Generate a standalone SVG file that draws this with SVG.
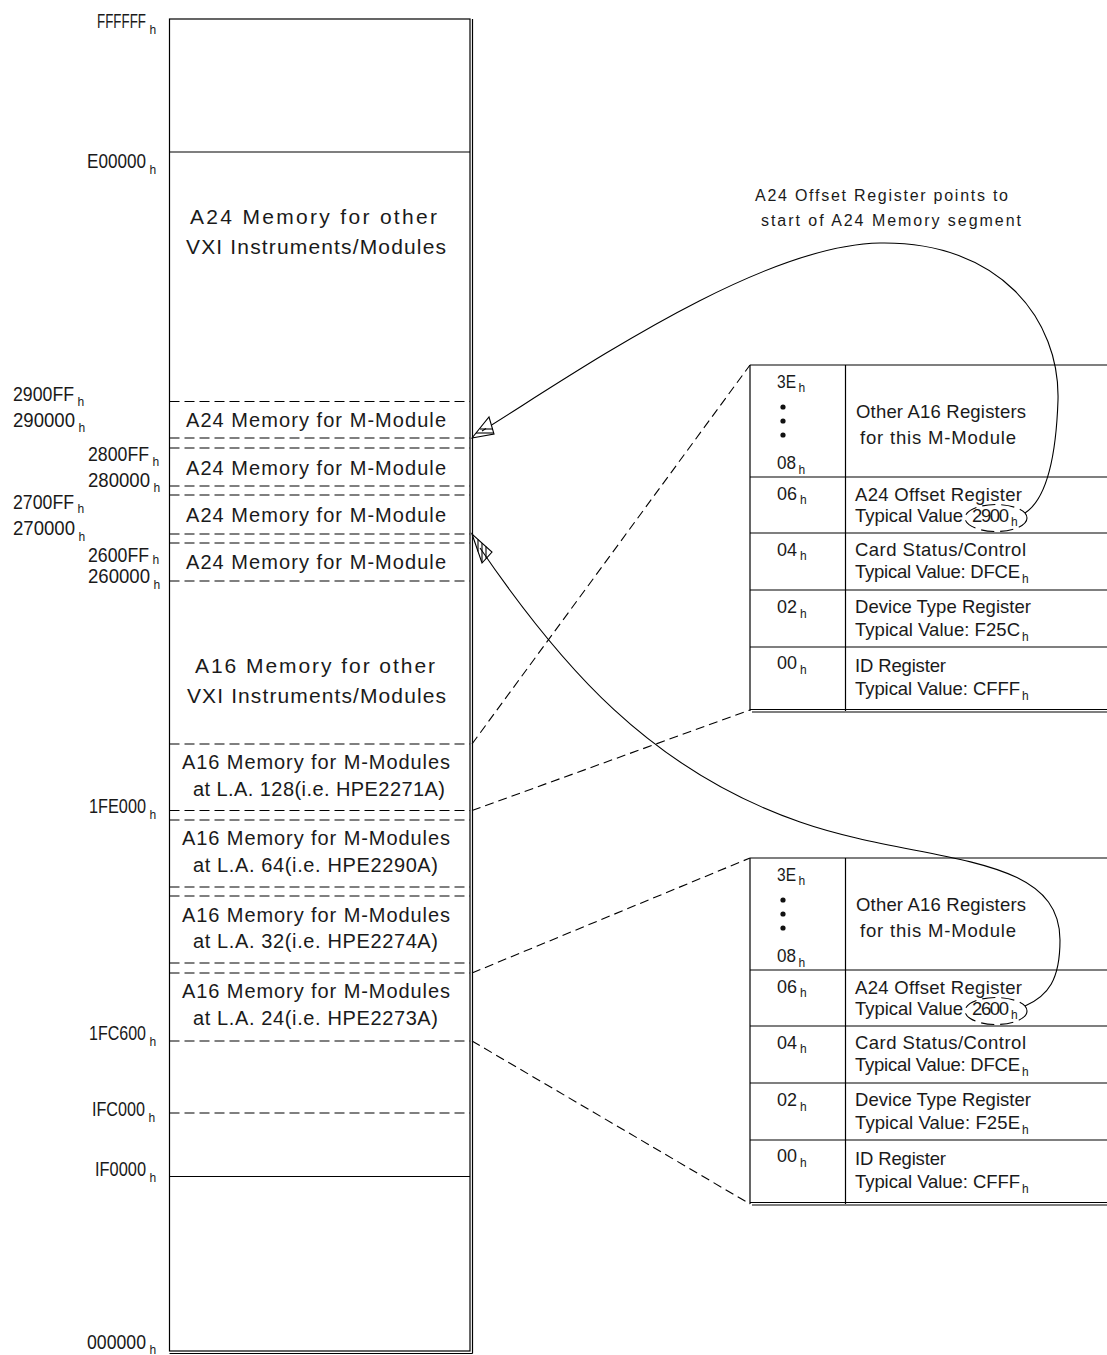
<svg xmlns="http://www.w3.org/2000/svg" width="1107" height="1355" viewBox="0 0 1107 1355">
<style>
.t{font-family:"Liberation Sans",Arial,sans-serif;fill:#1a1a1a}
.hex{font-size:19.5px}
.hs{font-size:12px}
.blk{font-size:20px}
.big{font-size:21px}
.tb{font-size:18.5px}
.note{font-size:16px}
.ln{stroke:#000;stroke-width:1.2;fill:none}
.dl{stroke:#000;stroke-width:1.2;stroke-dasharray:10 5;fill:none}
.cn{stroke:#000;stroke-width:1.1;stroke-dasharray:9 5;fill:none}
.cv{stroke:#000;stroke-width:1.1;fill:none}
.el{stroke:#000;stroke-width:1.1;stroke-dasharray:13 6;fill:none}
.ah{stroke:#000;stroke-width:1.1;fill:#fff}
.dot{fill:#111}
</style>
<rect width="1107" height="1355" fill="#fff"/>

<g id="memory-map">
  <rect class="ln" x="169.5" y="19" width="300.5" height="1332"/>
  <line class="ln" x1="472.5" y1="19" x2="472.5" y2="1353.5"/>
  <line class="ln" x1="169.5" y1="1353.5" x2="472.5" y2="1353.5"/>
  <line class="ln" x1="169.5" y1="152" x2="470" y2="152"/>
  <line class="ln" x1="169.5" y1="1176.5" x2="470" y2="1176.5"/>
  <g id="dividers">
    <line class="dl" x1="169.5" y1="401.5" x2="470" y2="401.5"/>
    <line class="dl" x1="169.5" y1="438" x2="470" y2="438"/>
    <line class="dl" x1="169.5" y1="448" x2="470" y2="448"/>
    <line class="dl" x1="169.5" y1="486" x2="470" y2="486"/>
    <line class="dl" x1="169.5" y1="495" x2="470" y2="495"/>
    <line class="dl" x1="169.5" y1="534" x2="470" y2="534"/>
    <line class="dl" x1="169.5" y1="543" x2="470" y2="543"/>
    <line class="dl" x1="169.5" y1="581" x2="470" y2="581"/>
    <line class="dl" x1="169.5" y1="744" x2="470" y2="744"/>
    <line class="dl" x1="169.5" y1="810.5" x2="470" y2="810.5"/>
    <line class="dl" x1="169.5" y1="820" x2="470" y2="820"/>
    <line class="dl" x1="169.5" y1="887" x2="470" y2="887"/>
    <line class="dl" x1="169.5" y1="896" x2="470" y2="896"/>
    <line class="dl" x1="169.5" y1="963" x2="470" y2="963"/>
    <line class="dl" x1="169.5" y1="973" x2="470" y2="973"/>
    <line class="dl" x1="169.5" y1="1041" x2="470" y2="1041"/>
    <line class="dl" x1="169.5" y1="1113" x2="470" y2="1113"/>
  </g>
</g>

<g id="address-labels" class="t hex">
  <text><tspan x="97" y="28" textLength="49" lengthAdjust="spacingAndGlyphs">FFFFFF</tspan><tspan class="hs" x="149.5" y="34">h</tspan></text>
  <text><tspan x="87" y="168" textLength="59" lengthAdjust="spacingAndGlyphs">E00000</tspan><tspan class="hs" x="149.5" y="174">h</tspan></text>
  <text><tspan x="13" y="401" textLength="61" lengthAdjust="spacingAndGlyphs">2900FF</tspan><tspan class="hs" x="77.5" y="406">h</tspan></text>
  <text><tspan x="13" y="427" textLength="62" lengthAdjust="spacingAndGlyphs">290000</tspan><tspan class="hs" x="78.5" y="432">h</tspan></text>
  <text><tspan x="88" y="461" textLength="61" lengthAdjust="spacingAndGlyphs">2800FF</tspan><tspan class="hs" x="152.5" y="466">h</tspan></text>
  <text><tspan x="88" y="487" textLength="62" lengthAdjust="spacingAndGlyphs">280000</tspan><tspan class="hs" x="153.5" y="492">h</tspan></text>
  <text><tspan x="13" y="509" textLength="61" lengthAdjust="spacingAndGlyphs">2700FF</tspan><tspan class="hs" x="77.5" y="513">h</tspan></text>
  <text><tspan x="13" y="535" textLength="62" lengthAdjust="spacingAndGlyphs">270000</tspan><tspan class="hs" x="78.5" y="541">h</tspan></text>
  <text><tspan x="88" y="562" textLength="61" lengthAdjust="spacingAndGlyphs">2600FF</tspan><tspan class="hs" x="152.5" y="564">h</tspan></text>
  <text><tspan x="88" y="583" textLength="62" lengthAdjust="spacingAndGlyphs">260000</tspan><tspan class="hs" x="153.5" y="589">h</tspan></text>
  <text><tspan x="89" y="813" textLength="57" lengthAdjust="spacingAndGlyphs">1FE000</tspan><tspan class="hs" x="149.5" y="819">h</tspan></text>
  <text><tspan x="89" y="1040" textLength="57" lengthAdjust="spacingAndGlyphs">1FC600</tspan><tspan class="hs" x="149.5" y="1046">h</tspan></text>
  <text><tspan x="92" y="1116" textLength="53" lengthAdjust="spacingAndGlyphs">IFC000</tspan><tspan class="hs" x="148.5" y="1122">h</tspan></text>
  <text><tspan x="95" y="1176" textLength="51" lengthAdjust="spacingAndGlyphs">IF0000</tspan><tspan class="hs" x="149.5" y="1182">h</tspan></text>
  <text><tspan x="87" y="1349" textLength="59" lengthAdjust="spacingAndGlyphs">000000</tspan><tspan class="hs" x="149.5" y="1354">h</tspan></text>
</g>

<g id="block-a24-other" class="t big">
  <text x="190" y="224" textLength="247">A24 Memory for other</text>
  <text x="186" y="254" textLength="260">VXI Instruments/Modules</text>
</g>
<g id="block-a24-m1" class="t blk"><text x="186" y="427" textLength="260">A24 Memory for M-Module</text></g>
<g id="block-a24-m2" class="t blk"><text x="186" y="475" textLength="260">A24 Memory for M-Module</text></g>
<g id="block-a24-m3" class="t blk"><text x="186" y="522" textLength="260">A24 Memory for M-Module</text></g>
<g id="block-a24-m4" class="t blk"><text x="186" y="569" textLength="260">A24 Memory for M-Module</text></g>
<g id="block-a16-other" class="t big">
  <text x="195" y="673" textLength="240">A16 Memory for other</text>
  <text x="187" y="703" textLength="259">VXI Instruments/Modules</text>
</g>
<g id="block-a16-la128" class="t blk">
  <text x="182" y="769" textLength="268">A16 Memory for M-Modules</text>
  <text x="193" y="796" textLength="252">at L.A. 128(i.e. HPE2271A)</text>
</g>
<g id="block-a16-la64" class="t blk">
  <text x="182" y="845" textLength="268">A16 Memory for M-Modules</text>
  <text x="193" y="872" textLength="245">at L.A. 64(i.e. HPE2290A)</text>
</g>
<g id="block-a16-la32" class="t blk">
  <text x="182" y="922" textLength="268">A16 Memory for M-Modules</text>
  <text x="193" y="948" textLength="245">at L.A. 32(i.e. HPE2274A)</text>
</g>
<g id="block-a16-la24" class="t blk">
  <text x="182" y="998" textLength="268">A16 Memory for M-Modules</text>
  <text x="193" y="1025" textLength="245">at L.A. 24(i.e. HPE2273A)</text>
</g>

<g id="annotation" class="t note">
  <text x="755" y="201" textLength="253">A24 Offset Register points to</text>
  <text x="761" y="226" textLength="260">start of A24 Memory segment</text>
</g>

<g id="register-table-1">
  <line class="ln" x1="750" y1="365" x2="1107" y2="365"/>
  <line class="ln" x1="750" y1="365" x2="750" y2="711"/>
  <line class="ln" x1="845.5" y1="365" x2="845.5" y2="711"/>
  <line class="ln" x1="750" y1="477" x2="1107" y2="477"/>
  <line class="ln" x1="750" y1="533" x2="1107" y2="533"/>
  <line class="ln" x1="750" y1="590" x2="1107" y2="590"/>
  <line class="ln" x1="750" y1="647" x2="1107" y2="647"/>
  <line class="ln" x1="750" y1="709.5" x2="1107" y2="709.5"/>
  <line class="ln" x1="752" y1="712" x2="1107" y2="712"/>
  <g class="t tb">
    <text><tspan x="777" y="388" textLength="19" lengthAdjust="spacingAndGlyphs">3E</tspan><tspan class="hs" x="798.5" y="392">h</tspan></text>
    <text><tspan x="777" y="469" textLength="19" lengthAdjust="spacingAndGlyphs">08</tspan><tspan class="hs" x="798.5" y="474">h</tspan></text>
    <text><tspan x="777" y="500" textLength="20" lengthAdjust="spacingAndGlyphs">06</tspan><tspan class="hs" x="800" y="504">h</tspan></text>
    <text><tspan x="777" y="556" textLength="20" lengthAdjust="spacingAndGlyphs">04</tspan><tspan class="hs" x="800" y="560">h</tspan></text>
    <text><tspan x="777" y="613" textLength="20" lengthAdjust="spacingAndGlyphs">02</tspan><tspan class="hs" x="800" y="618">h</tspan></text>
    <text><tspan x="777" y="669" textLength="20" lengthAdjust="spacingAndGlyphs">00</tspan><tspan class="hs" x="800" y="674">h</tspan></text>
    <text x="856" y="418" textLength="170">Other A16 Registers</text>
    <text x="860" y="444" textLength="156">for this M-Module</text>
    <text x="855" y="501" textLength="167">A24 Offset Register</text>
    <text><tspan x="855" y="522" textLength="108">Typical Value</tspan><tspan x="972" y="522" textLength="37">2900</tspan><tspan class="hs" x="1011" y="526">h</tspan></text>
    <text x="855" y="556" textLength="171">Card Status/Control</text>
    <text><tspan x="855" y="578" textLength="165">Typical Value: DFCE</tspan><tspan class="hs" x="1022" y="583">h</tspan></text>
    <text x="855" y="613" textLength="176">Device Type Register</text>
    <text><tspan x="855" y="636" textLength="165">Typical Value: F25C</tspan><tspan class="hs" x="1022" y="641">h</tspan></text>
    <text x="855" y="672" textLength="91">ID Register</text>
    <text><tspan x="855" y="695" textLength="165">Typical Value: CFFF</tspan><tspan class="hs" x="1022" y="700">h</tspan></text>
  </g>
  <circle class="dot" cx="783" cy="407" r="2.6"/>
  <circle class="dot" cx="783" cy="421" r="2.6"/>
  <circle class="dot" cx="783" cy="435" r="2.6"/>
  <ellipse class="el" cx="996" cy="518" rx="31" ry="13.5"/>
</g>

<g id="register-table-2">
  <line class="ln" x1="750" y1="858" x2="1107" y2="858"/>
  <line class="ln" x1="750" y1="858" x2="750" y2="1204"/>
  <line class="ln" x1="845.5" y1="858" x2="845.5" y2="1204"/>
  <line class="ln" x1="750" y1="970" x2="1107" y2="970"/>
  <line class="ln" x1="750" y1="1026" x2="1107" y2="1026"/>
  <line class="ln" x1="750" y1="1083" x2="1107" y2="1083"/>
  <line class="ln" x1="750" y1="1140" x2="1107" y2="1140"/>
  <line class="ln" x1="750" y1="1202.5" x2="1107" y2="1202.5"/>
  <line class="ln" x1="752" y1="1205" x2="1107" y2="1205"/>
  <g class="t tb">
    <text><tspan x="777" y="881" textLength="19" lengthAdjust="spacingAndGlyphs">3E</tspan><tspan class="hs" x="798.5" y="885">h</tspan></text>
    <text><tspan x="777" y="962" textLength="19" lengthAdjust="spacingAndGlyphs">08</tspan><tspan class="hs" x="798.5" y="967">h</tspan></text>
    <text><tspan x="777" y="993" textLength="20" lengthAdjust="spacingAndGlyphs">06</tspan><tspan class="hs" x="800" y="997">h</tspan></text>
    <text><tspan x="777" y="1049" textLength="20" lengthAdjust="spacingAndGlyphs">04</tspan><tspan class="hs" x="800" y="1053">h</tspan></text>
    <text><tspan x="777" y="1106" textLength="20" lengthAdjust="spacingAndGlyphs">02</tspan><tspan class="hs" x="800" y="1111">h</tspan></text>
    <text><tspan x="777" y="1162" textLength="20" lengthAdjust="spacingAndGlyphs">00</tspan><tspan class="hs" x="800" y="1167">h</tspan></text>
    <text x="856" y="911" textLength="170">Other A16 Registers</text>
    <text x="860" y="937" textLength="156">for this M-Module</text>
    <text x="855" y="994" textLength="167">A24 Offset Register</text>
    <text><tspan x="855" y="1015" textLength="108">Typical Value</tspan><tspan x="972" y="1015" textLength="37">2600</tspan><tspan class="hs" x="1011" y="1019">h</tspan></text>
    <text x="855" y="1049" textLength="171">Card Status/Control</text>
    <text><tspan x="855" y="1071" textLength="165">Typical Value: DFCE</tspan><tspan class="hs" x="1022" y="1076">h</tspan></text>
    <text x="855" y="1106" textLength="176">Device Type Register</text>
    <text><tspan x="855" y="1129" textLength="165">Typical Value: F25E</tspan><tspan class="hs" x="1022" y="1134">h</tspan></text>
    <text x="855" y="1165" textLength="91">ID Register</text>
    <text><tspan x="855" y="1188" textLength="165">Typical Value: CFFF</tspan><tspan class="hs" x="1022" y="1193">h</tspan></text>
  </g>
  <circle class="dot" cx="783" cy="900" r="2.6"/>
  <circle class="dot" cx="783" cy="914" r="2.6"/>
  <circle class="dot" cx="783" cy="928" r="2.6"/>
  <ellipse class="el" cx="996" cy="1011" rx="31" ry="13.5"/>
</g>

<g id="connectors">
  <line class="cn" x1="472" y1="744" x2="750" y2="365"/>
  <line class="cn" x1="472" y1="810.5" x2="750" y2="710"/>
  <line class="cn" x1="472" y1="973" x2="750" y2="858"/>
  <line class="cn" x1="472" y1="1041" x2="750" y2="1204"/>
  <path class="cv" d="M482,431 C580,370 760,245 880,243 C1000,241 1060,320 1058,400 C1056,460 1045,500 1025,513"/>
  <path class="cv" d="M480,548 C560,665 650,770 800,822 C920,864 1060,850 1060,940 C1060,980 1048,996 1025,1006"/>
  <g id="arrowhead-1">
    <polygon class="ah" points="472,438 489,417 494,434"/>
    <line class="cv" x1="480" y1="429" x2="492.8" y2="429"/>
    <line class="cv" x1="476" y1="433" x2="493.7" y2="433"/>
    <line class="cv" x1="482" y1="431" x2="486" y2="428.5"/>
  </g>
  <g id="arrowhead-2">
    <polygon class="ah" points="472,534 482,563 492,552"/>
    <line class="cv" x1="478" y1="539.4" x2="478" y2="551.4"/>
    <line class="cv" x1="482" y1="543" x2="482" y2="562"/>
    <line class="cv" x1="486" y1="546.6" x2="486" y2="558.6"/>
    <line class="cv" x1="480" y1="548" x2="487" y2="558"/>
  </g>
</g>
</svg>
